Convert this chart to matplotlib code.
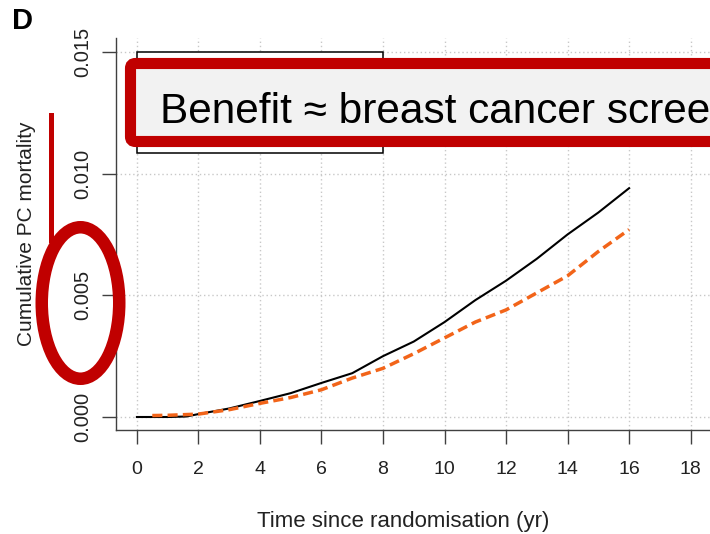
import matplotlib.pyplot as plt
from matplotlib.patches import Rectangle, FancyBboxPatch, Ellipse
from matplotlib.lines import Line2D
from matplotlib.transforms import IdentityTransform

plt.rcParams['font.family'] = ['Liberation Sans', 'DejaVu Sans']

# screening arm (black) and control arm (orange)
years_black = [0, 1, 1.6, 2, 3, 4, 5, 6, 7, 8, 9, 10, 11, 12, 13, 14, 15, 16]
mort_black = [0, 0, 0.00002, 0.00012, 0.00035, 0.00066, 0.00098, 0.0014, 0.0018,
              0.0025, 0.0031, 0.0039, 0.0048, 0.0056, 0.0065, 0.0075, 0.0084, 0.0094]
years_orange = [0.5, 1, 2, 3, 4, 5, 6, 7, 8, 9, 10, 11, 12, 13, 14, 15, 16]
mort_orange = [0.00006, 0.00007, 0.00012, 0.0003, 0.00056, 0.0008, 0.00112, 0.0016,
               0.0020, 0.0026, 0.00325, 0.0039, 0.0044, 0.0051, 0.0058, 0.0068, 0.0077]

xticks = [0, 2, 4, 6, 8, 10, 12, 14, 16, 18]
yticks = [0.0, 0.005, 0.010, 0.015]
ytick_labels = ['0.000', '0.005', '0.010', '0.015']

W, H = 710, 534
fig = plt.figure(figsize=(W / 100, H / 100), dpi=100)
ax = fig.add_axes([116 / W, 1 - 430 / H, 1 - 116 / W, (430 - 38) / H])

ax.set_xlim(-0.68, 18.63)
ax.set_ylim(-0.000534, 0.01557)

# grid, R style
for x in xticks:
    ax.axvline(x, color='#c8c8c8', lw=1, ls=(0, (1, 2)), zorder=0)
for y in yticks:
    ax.axhline(y, color='#c8c8c8', lw=1, ls=(0, (1, 2)), zorder=0)

# legend box (covered by the callout)
ax.add_patch(Rectangle((0, 0.01085), 8, 0.015 - 0.01085, facecolor='white',
                       edgecolor='black', lw=1.1, zorder=3))

ax.plot(years_black, mort_black, color='black', lw=1.5, zorder=4)
ax.plot(years_orange, mort_orange, color='#F26419', lw=2.5, dashes=(2.9, 1.5), zorder=4)

ax.spines['top'].set_visible(False)
ax.spines['right'].set_visible(False)
for s in ['left', 'bottom']:
    ax.spines[s].set_color('#404040')
    ax.spines[s].set_linewidth(1.0)

ax.set_xticks(xticks)
ax.set_xticklabels([str(x) for x in xticks], fontsize=14, color='#222222')
ax.set_yticks(yticks)
ax.set_yticklabels(ytick_labels, fontsize=14.5, color='#222222', rotation=90, va='center')
ax.tick_params(axis='both', direction='out', length=10, width=1.0, color='#404040')
ax.tick_params(axis='x', pad=12)
ax.tick_params(axis='y', pad=7)

fig.text(403 / W, 1 - 521 / H, 'Time since randomisation (yr)', fontsize=16,
         ha='center', va='center', color='#222222')
fig.text(27 / W, 1 - 234 / H, 'Cumulative PC mortality', fontsize=15, rotation=90,
         ha='center', va='center', color='#222222')

fig.text(12 / W, 1 - 29 / H, 'D', fontsize=21, fontweight='bold', va='baseline')

# red callout, runs off the right edge as in the original slide
red = '#C00000'
box = FancyBboxPatch((130.5, H - 141.5), 700, 78, boxstyle='round,pad=0,rounding_size=5',
                     transform=IdentityTransform(), facecolor='#F2F2F2', edgecolor=red,
                     lw=8, zorder=10)
fig.patches.append(box)
fig.text(160 / W, 1 - 123 / H, 'Benefit \u2248 breast cancer screening', fontsize=30.5,
         va='baseline', ha='left', color='black', zorder=11)

fig.lines.append(Line2D([50.5, 50.5], [H - 115, H - 240], transform=IdentityTransform(),
                        color=red, lw=3.6, zorder=10))
fig.patches.append(Ellipse((80.5, H - 303), 77.5, 151.5, transform=IdentityTransform(),
                           facecolor='none', edgecolor=red, lw=9, zorder=10))

fig.savefig('out.png', dpi=100)
